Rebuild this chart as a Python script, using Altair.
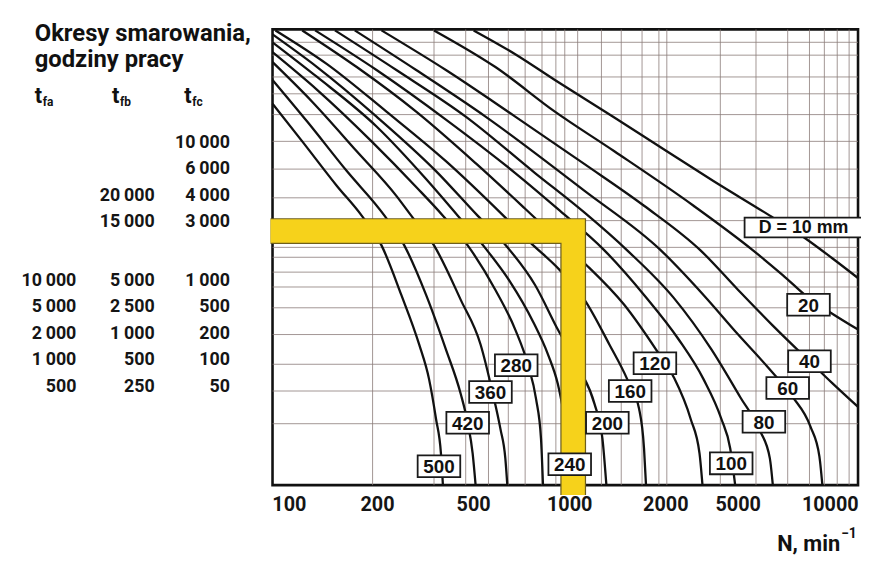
import altair as alt
import pandas as pd

# ---------------- data (chart units: x 0..59.1 along the speed axis, y 0..46 up the plot) ----
d10_x = [20.3, 24.5, 28.5, 34.5, 39.8, 44.5, 50.2, 53.8, 56.5, 59.1]
d10_y = [45.9, 43.5, 40.9, 37.1, 33.7, 30.7, 27.2, 24.9, 22.9, 20.9]
d20_x = [16.3, 22.5, 28.5, 34.5, 42.5, 48.5, 51.5, 54.1, 56.5, 59.1]
d20_y = [45.9, 42.2, 37.7, 33.7, 28.2, 23.7, 21.2, 18.9, 17.3, 15.7]
d40_x = [11.0, 17.5, 24.5, 31.5, 37.5, 43.2, 47.0, 50.5, 54.2, 56.5, 59.1]
d40_y = [45.9, 41.9, 37.2, 32.4, 28.2, 23.7, 19.7, 16.1, 12.5, 10.3, 7.9]
d60_x = [8.3, 14.5, 21.5, 31.5, 39.2, 43.5, 47.0, 50.0, 52.5, 54.3, 55.2, 55.5]
d60_y = [45.9, 41.9, 37.2, 29.7, 23.7, 19.2, 15.2, 11.9, 8.9, 5.9, 2.9, 0.0]
d80_x = [6.3, 12.5, 19.5, 26.5, 31.5, 35.8, 40.5, 44.3, 47.2, 49.2, 50.2, 50.5]
d80_y = [45.9, 41.9, 37.2, 31.5, 27.5, 23.7, 18.9, 13.7, 8.9, 5.5, 2.7, 0.0]
d100_x = [4.3, 10.5, 17.5, 24.5, 29.0, 33.5, 37.5, 41.0, 43.5, 45.3, 46.2, 46.7]
d100_y = [45.9, 41.9, 36.9, 31.5, 27.7, 23.7, 19.2, 14.7, 10.7, 6.7, 3.7, 0.0]
d120_x = [3.0, 8.5, 14.5, 20.5, 25.5, 28.7, 31.7, 35.5, 38.7, 40.5, 42.2, 43.1, 43.4]
d120_y = [45.9, 42.2, 37.7, 32.5, 27.9, 24.9, 22.2, 18.2, 13.7, 10.9, 6.7, 3.2, 0.0]
d160_x = [0.3, 5.5, 11.5, 17.5, 23.3, 26.0, 29.0, 31.5, 34.0, 35.8, 37.0, 37.5, 37.7]
d160_y = [45.9, 42.5, 37.7, 32.7, 27.2, 24.5, 21.7, 18.7, 14.2, 10.7, 7.7, 3.7, 0.0]
d200_x = [0.0, 4.5, 10.5, 16.5, 20.7, 23.3, 26.5, 28.8, 31.0, 32.5, 33.3, 33.7]
d200_y = [45.5, 42.2, 37.2, 31.7, 27.2, 24.5, 20.2, 15.7, 11.7, 8.2, 4.7, 0.0]
d240_x = [0.0, 4.5, 10.5, 15.5, 18.7, 21.5, 24.0, 26.3, 27.8, 28.8, 29.5, 30.1, 30.4]
d240_y = [44.7, 41.2, 36.2, 30.9, 27.2, 23.9, 20.5, 16.5, 13.2, 10.2, 6.7, 3.2, 0.0]
d280_x = [0.0, 4.5, 10.0, 14.5, 17.2, 19.7, 22.5, 24.5, 25.8, 26.6, 27.1, 27.3]
d280_y = [43.7, 39.9, 34.7, 30.1, 27.2, 24.2, 19.7, 15.7, 12.1, 8.7, 4.7, 0.0]
d360_x = [0.0, 4.0, 8.5, 12.5, 14.0, 16.3, 19.0, 21.0, 22.2, 23.0, 23.5, 23.7]
d360_y = [42.7, 38.7, 33.7, 29.2, 27.2, 24.2, 18.7, 14.2, 9.4, 5.7, 2.7, 0.0]
d420_x = [0.0, 3.5, 7.5, 11.3, 13.3, 15.5, 17.5, 19.0, 19.7, 20.2, 20.5]
d420_y = [40.9, 36.7, 31.7, 27.2, 24.2, 19.2, 13.7, 9.2, 6.3, 3.2, 0.0]
d500_x = [0.0, 3.0, 6.5, 9.0, 11.0, 13.0, 14.8, 15.8, 16.5, 17.0, 17.2]
d500_y = [38.5, 34.7, 30.2, 27.2, 24.2, 19.2, 14.2, 10.7, 6.7, 3.2, 0.0]

curves = {10: (d10_x, d10_y), 20: (d20_x, d20_y), 40: (d40_x, d40_y), 60: (d60_x, d60_y),
          80: (d80_x, d80_y), 100: (d100_x, d100_y), 120: (d120_x, d120_y), 160: (d160_x, d160_y),
          200: (d200_x, d200_y), 240: (d240_x, d240_y), 280: (d280_x, d280_y), 360: (d360_x, d360_y),
          420: (d420_x, d420_y), 500: (d500_x, d500_y)}

# curve labels
lab_text = ["20", "40", "60", "80", "100", "120", "160", "200", "240", "280", "360", "420", "500"]
lab_x = [54.1, 54.2, 52.0, 49.6, 46.3, 38.6, 36.1, 33.8, 30.0, 24.6, 22.0, 19.7, 16.8]
lab_y = [18.2, 12.5, 9.8, 6.4, 2.2, 12.3, 9.5, 6.3, 2.1, 12.1, 9.4, 6.3, 1.9]
dlab_text = ["D = 10 mm"]
dlab_x = [53.6]
dlab_y = [26.0]

# speed axis tick labels
tick_labels = ["100", "200", "500", "1000", "2000", "5000", "10000"]
tick_pos = [1.7, 10.6, 20.3, 30.0, 39.7, 47.0, 56.3]
tick_row = -2.0

# grid
vgrid = [10.1, 16.3, 19.5, 21.8, 23.8, 25.5, 27.2, 28.6, 29.5, 30.8, 33.2, 35.2, 37.3,
         39.0, 39.8, 45.2, 48.8, 52.0, 54.2, 55.7, 57.0, 58.2]
hgrid = [44.7, 43.4, 41.2, 39.5, 37.4, 34.7, 31.9, 29.0, 26.7, 24.0, 23.0, 21.5, 20.0,
         17.9, 15.2, 12.2, 9.5, 6.2]

# yellow reading path (example: N = 1000 -> t = 3000 h)
path_x = [-0.2, 30.35, 30.35]
path_y = [25.65, 25.65, -1.0]

# lubrication interval table
row_y = [34.5, 31.9, 29.2, 26.6, 20.6, 18.0, 15.3, 12.6, 9.9]
tfa = ["", "", "", "", "10\u2009000", "5\u2009000", "2\u2009000", "1\u2009000", "500"]
tfb = ["", "", "20\u2009000", "15\u2009000", "5\u2009000", "2\u2009500", "1\u2009000", "500", "250"]
tfc = ["10\u2009000", "6\u2009000", "4\u2009000", "3\u2009000", "1\u2009000", "500", "200", "100", "50"]
col_x = [-19.8, -11.9, -4.3]

title_lines = ["Okresy smarowania,", "godziny pracy"]
title_y = [44.8, 42.2]
title_x = -24.0

hdr_main = ["t", "t", "t"]
hdr_sub = ["fa", "fb", "fc"]
hdr_x = [-24.0, -16.2, -8.9]
hdr_sub_x = [-23.2, -15.4, -8.1]
hdr_y = 38.6
hdr_sub_y = 38.3

axis_title = "N, min"
axis_sup = "\u22121"

# ---------------- build ----------------
REG = "Roboto, Liberation Sans, sans-serif"
BOLDF = "Liberation Sans, Arial, sans-serif"

xs = alt.Scale(domain=[0, 59.1], nice=False, zero=False)
ys = alt.Scale(domain=[0, 46], nice=False, zero=False)


def X(f="x"):
    return alt.X(f"{f}:Q", scale=xs, axis=None)


def Y(f="y"):
    return alt.Y(f"{f}:Q", scale=ys, axis=None)


rows = []
for d, (cx, cy) in curves.items():
    for i, (a, b) in enumerate(zip(cx, cy)):
        rows.append({"D": d, "x": a, "y": b, "i": i})
curve_df = pd.DataFrame(rows)

vg = alt.Chart(pd.DataFrame({"x": vgrid})).mark_rule(color="#8a7b78", strokeWidth=1, opacity=0.8).encode(x=X())
hg = alt.Chart(pd.DataFrame({"y": hgrid})).mark_rule(color="#8a7b78", strokeWidth=1, opacity=0.8).encode(y=Y())

lines = alt.Chart(curve_df).mark_line(color="#111111", strokeWidth=2.3, interpolate="monotone").encode(
    x=X(), y=Y(), detail="D:N", order="i:Q")

path_df = pd.DataFrame({"x": path_x, "y": path_y, "i": list(range(len(path_x)))})
path_out = alt.Chart(path_df).mark_line(color="#6e5f1c", strokeWidth=26, strokeJoin="miter",
                                         strokeCap="butt").encode(x=X(), y=Y(), order="i:Q")
path_in = alt.Chart(path_df).mark_line(color="#F6D21B", strokeWidth=23.5, strokeJoin="miter",
                                        strokeCap="butt").encode(x=X(), y=Y(), order="i:Q")

lab_df = pd.DataFrame({"x": lab_x, "y": lab_y, "t": lab_text})
boxes = alt.Chart(lab_df).mark_point(shape="M-1,-0.512L1,-0.512L1,0.512L-1,0.512Z", size=1849,
                                     filled=True, fill="white", stroke="#1a1a1a", strokeWidth=1.8,
                                     opacity=1, fillOpacity=1, strokeOpacity=1).encode(x=X(), y=Y())
labs = alt.Chart(lab_df).mark_text(font=BOLDF, fontWeight="bold", fontSize=19, color="#111",
                                   baseline="middle", align="center", dy=1).encode(x=X(), y=Y(), text="t:N")

dlab_df = pd.DataFrame({"x": dlab_x, "y": dlab_y, "t": dlab_text})
dbox = alt.Chart(dlab_df).mark_point(shape="M-1,-0.168L1,-0.168L1,0.168L-1,0.168Z", size=14161,
                                     filled=True, fill="white", stroke="#1a1a1a", strokeWidth=1.8,
                                     opacity=1, fillOpacity=1, strokeOpacity=1).encode(x=X(), y=Y())
dlab = alt.Chart(dlab_df).mark_text(font=BOLDF, fontWeight="bold", fontSize=18, color="#111",
                                    baseline="middle", align="center", dy=1).encode(x=X(), y=Y(), text="t:N")

tick_df = pd.DataFrame({"x": tick_pos, "y": [tick_row] * len(tick_pos), "t": tick_labels})
ticks = alt.Chart(tick_df).mark_text(font=REG, fontWeight="bold", fontSize=20, color="#151515",
                                     baseline="middle", align="center").encode(x=X(), y=Y(), text="t:N")

xtitle = alt.Chart(pd.DataFrame({"x": [57.3], "y": [-6.6], "t": [axis_title]})).mark_text(
    font=REG, fontWeight="bold", fontSize=22, color="#111", align="right",
    baseline="alphabetic").encode(x=X(), y=Y(), text="t:N")
xsup = alt.Chart(pd.DataFrame({"x": [57.4], "y": [-5.3], "t": [axis_sup]})).mark_text(
    font=REG, fontWeight="bold", fontSize=14, color="#111", align="left",
    baseline="alphabetic").encode(x=X(), y=Y(), text="t:N")

tab_layers = []
for vals, xpos in zip((tfa, tfb, tfc), col_x):
    df = pd.DataFrame({"x": [xpos] * len(row_y), "y": row_y, "t": vals})
    df = df[df["t"] != ""]
    tab_layers.append(alt.Chart(df).mark_text(font=REG, fontWeight="bold", fontSize=18, color="#151515",
                                              align="right", baseline="middle").encode(
        x=X(), y=Y(), text="t:N"))

head_df = pd.DataFrame({"x": [title_x] * 2, "y": title_y, "t": title_lines})
head = alt.Chart(head_df).mark_text(font=REG, fontWeight="bold", fontSize=24, color="#111",
                                    align="left", baseline="alphabetic").encode(x=X(), y=Y(), text="t:N")

t_df = pd.DataFrame({"x": hdr_x, "y": [hdr_y] * 3, "t": hdr_main})
t_main = alt.Chart(t_df).mark_text(font=REG, fontWeight="bold", fontSize=22, color="#111",
                                   align="left", baseline="alphabetic").encode(x=X(), y=Y(), text="t:N")
sub_df = pd.DataFrame({"x": hdr_sub_x, "y": [hdr_sub_y] * 3, "t": hdr_sub})
t_sub = alt.Chart(sub_df).mark_text(font=REG, fontWeight="bold", fontSize=12, color="#111",
                                    align="left", baseline="alphabetic").encode(x=X(), y=Y(), text="t:N")

chart = alt.layer(vg, hg, lines, path_out, path_in, boxes, labs, dbox, dlab, ticks, xtitle, xsup,
                  *tab_layers, head, t_main, t_sub).properties(
    width=591, height=460,
    padding={"left": 267, "top": 19, "right": 3, "bottom": 77},
    autosize=alt.AutoSizeParams(type="none"),
    background="white",
).configure_view(stroke="#111111", strokeWidth=2.6)

chart.save("out.html", embed_options={"renderer": "svg", "actions": False})
